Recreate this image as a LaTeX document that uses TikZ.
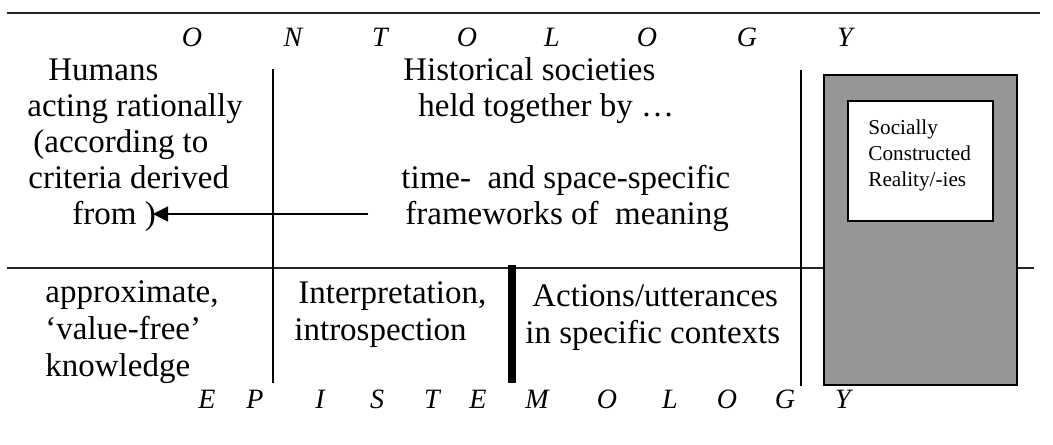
\documentclass[tikz,border=0pt]{standalone}
\usepackage{fontspec}
\setmainfont{Liberation Serif}
\usetikzlibrary{arrows.meta, calc}
\definecolor{boxgray}{RGB}{150,150,150}

\begin{document}
\begin{tikzpicture}[x=0.5pt, y=-0.5pt]

              \tikzset{
                bodytext/.style={
                    font=\fontsize{16.5}{18}\selectfont,
                    align=left,
                    anchor=base west,
                    inner sep=0pt
                  },
                lowertext/.style={
                    bodytext,
                    font=\fontsize{16.5}{18.5}\selectfont
                  },
                capletter/.style={
                    font=\fontsize{14}{16}\selectfont\itshape,
                    anchor=base,
                    inner sep=0pt
                  },
                boxtext/.style={
                    font=\fontsize{10.6}{13}\selectfont,
                    align=left,
                    anchor=base west,
                    inner sep=0pt
                  },
                rule/.style={draw=black!85, line width=0.9pt},
                divider/.style={draw=black, line width=0.8pt},
                arr/.style={-{Triangle[length=7.5pt, width=7.5pt]}, line width=0.8pt}
              }
              \useasboundingbox (0,0) rectangle (1053,444);

              % rules and dividers
              \draw[rule] (7,13) -- (1040,13);
              \draw[rule] (7,268) -- (1034,268);
              \draw[divider] (273,69) -- (273,383);
              \draw[divider] (801,70) -- (801,386);
              \draw[line width=3.75pt] (512,265) -- (512,383);

              % the reality box (base = last line)
              \draw[line width=1.2pt, fill=boxgray] (824,75) rectangle (1017,385);
              \draw[line width=1pt, fill=white] (848,101) rectangle (993,221);
              \node[boxtext] (reality) at (868,186) {Socially\\Constructed\\Reality/-ies};

              \foreach \letter/\x [count=\i] in {O/192,N/293,T/380,O/467,L/552,O/647,G/747,Y/845}
                \node[capletter] (ont\i) at (\x,47) {\letter};
              \foreach \letter/\x [count=\i] in {E/207,P/255,I/320,S/377,T/432,E/478,M/537,O/607,L/670,O/727,G/785,Y/843}
                \node[capletter] (epi\i) at (\x,408) {\letter};

              \node[bodytext] (humans) at (27,224) {\hspace*{10.5pt}Humans\\acting rationally\\\hspace*{3pt}(according to\\\hspace*{0.5pt}criteria derived\\\hspace*{22.5pt}from )};
              \node[bodytext] (societies) at (401,224) {\hspace*{1pt}Historical societies\\\hspace*{8.5pt}held together by …\\[18pt]time-~ and space-specific\\\hspace*{2pt}frameworks of~ meaning};

              \node[lowertext] (approx) at (45,376) {approximate,\\‘value-free’\\knowledge};
              \node[lowertext] (interp) at (294,340) {\hspace*{2pt}Interpretation,\\introspection};
              \node[lowertext] (actions) at (525,343) {\hspace*{3.5pt}Actions/utterances\\in specific contexts};

              \coordinate (fromend) at (153,214);
              \draw[arr] ($(societies.west |- fromend)+(-33,0)$) -- (fromend);

            \end{tikzpicture}
\end{document}
